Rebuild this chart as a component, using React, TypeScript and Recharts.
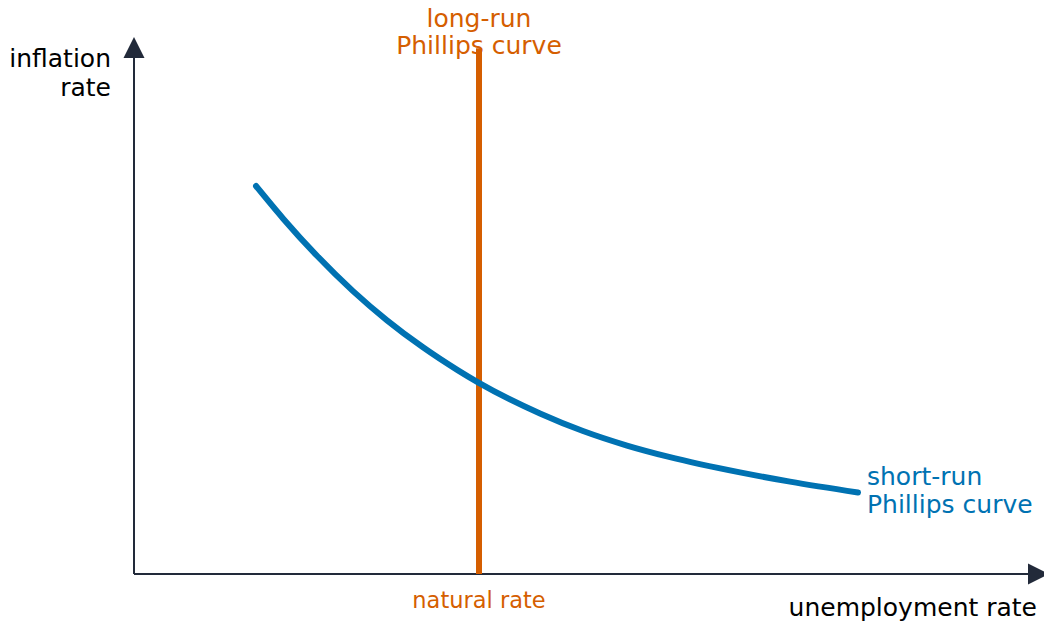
import React from 'react';
import { LineChart, Line, XAxis, YAxis, ReferenceLine } from 'recharts';

// short-run Phillips curve (x = unemployment, y = inflation)
const unemployment = [1.22, 1.49, 1.83, 2.19, 2.53, 2.89, 3.24, 3.44, 4.06, 4.49, 4.93, 5.34, 6.06, 6.56, 7.24];
const inflation = [7.239, 6.634, 5.937, 5.278, 4.733, 4.229, 3.799, 3.575, 2.996, 2.668, 2.397, 2.19, 1.896, 1.724, 1.521];

const naturalRate = 3.45;
const longRunTop = 9.81;
const xMax = 9;
const yMax = 10;
const xArrowEnd = 9.15;
const yArrowEnd = 10.02;

const shortRunLabel = ['short-run', 'Phillips curve'];
const longRunLabel = ['long-run', 'Phillips curve'];
const yAxisLabel = ['inflation', 'rate'];
const xAxisLabel = 'unemployment rate';
const naturalRateLabel = 'natural rate';

const data = unemployment.map((u, i) => ({ u, pi: inflation[i] }));

const FONT = 'DejaVu Sans, sans-serif';
const AXIS = '#222a3a';
const BLUE = '#0072b2';
const ORANGE = '#d55e00';

const XArrow = (p: any) => {
  const { x1, y1, x2 } = p;
  return (
    <g>
      <line x1={x1} y1={y1} x2={x2 - 18} y2={y1} stroke={AXIS} strokeWidth={2} />
      <polygon points={`${x2},${y1} ${x2 - 21},${y1 - 10.5} ${x2 - 21},${y1 + 10.5}`} fill={AXIS} />
      <text x={1037} y={y1 + 42} textAnchor="end" fontFamily={FONT} fontSize={25} fill="#000">
        {xAxisLabel}
      </text>
    </g>
  );
};

const YArrow = (p: any) => {
  const { x1, y1, y2 } = p;
  return (
    <g>
      <line x1={x1} y1={y1} x2={x1} y2={y2 + 18} stroke={AXIS} strokeWidth={2} />
      <polygon points={`${x1},${y2} ${x1 - 10.5},${y2 + 21} ${x1 + 10.5},${y2 + 21}`} fill={AXIS} />
      <text textAnchor="end" fontFamily={FONT} fontSize={25} fill="#000">
        <tspan x={x1 - 23} y={y2 + 30}>{yAxisLabel[0]}</tspan>
        <tspan x={x1 - 23} y={y2 + 59}>{yAxisLabel[1]}</tspan>
      </text>
    </g>
  );
};

const LongRun = (p: any) => {
  const { x1, y1, y2 } = p;
  return (
    <g>
      <text textAnchor="middle" fontFamily={FONT} fontSize={25} fill={ORANGE}>
        <tspan x={x1} y={y2 - 21}>{longRunLabel[0]}</tspan>
        <tspan x={x1} y={y2 + 6}>{longRunLabel[1]}</tspan>
      </text>
      <line x1={x1} y1={y1} x2={x1} y2={y2} stroke={ORANGE} strokeWidth={6} />
      <text x={x1} y={y1 + 34} textAnchor="middle" fontFamily={FONT} fontSize={22.5} fill={ORANGE}>
        {naturalRateLabel}
      </text>
    </g>
  );
};

const EndLabel = (p: any) => {
  const { x, y, index } = p;
  if (index !== data.length - 1) return null;
  return (
    <text textAnchor="start" fontFamily={FONT} fontSize={25} fill={BLUE}>
      <tspan x={x + 9} y={y - 7}>{shortRunLabel[0]}</tspan>
      <tspan x={x + 9} y={y + 21}>{shortRunLabel[1]}</tspan>
    </text>
  );
};

export default function App() {
  return (
    <div style={{ position: 'absolute', left: 0, top: 0 }}>
      <LineChart
        width={1044}
        height={623}
        data={data}
        margin={{ top: 38, right: 10, bottom: 49, left: 134 }}
        style={{ overflow: 'visible' }}
      >
        <XAxis type="number" dataKey="u" domain={[0, xMax]} hide />
        <YAxis type="number" domain={[0, yMax]} hide />
        <ReferenceLine
          segment={[{ x: 0, y: 0 }, { x: xArrowEnd, y: 0 }]}
          ifOverflow="visible"
          shape={XArrow}
        />
        <ReferenceLine
          segment={[{ x: 0, y: 0 }, { x: 0, y: yArrowEnd }]}
          ifOverflow="visible"
          shape={YArrow}
        />
        <ReferenceLine
          segment={[{ x: naturalRate, y: 0 }, { x: naturalRate, y: longRunTop }]}
          ifOverflow="visible"
          shape={LongRun}
        />
        <Line
          type="monotone"
          dataKey="pi"
          stroke={BLUE}
          strokeWidth={6}
          strokeLinecap="round"
          dot={false}
          label={EndLabel}
          isAnimationActive={false}
        />
      </LineChart>
    </div>
  );
}
